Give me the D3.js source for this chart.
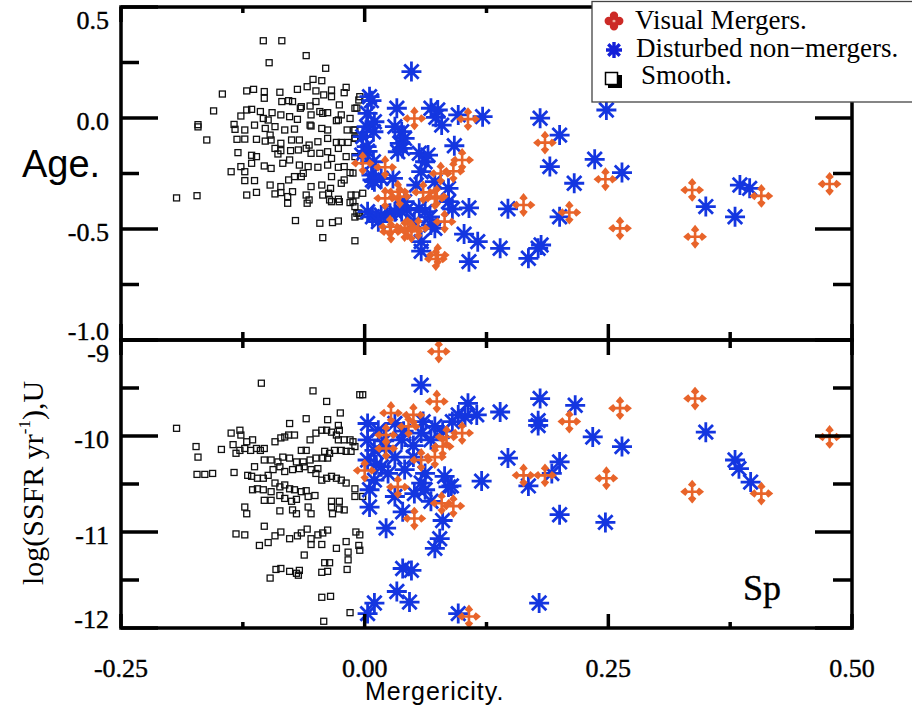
<!DOCTYPE html>
<html>
<head>
<meta charset="utf-8">
<script src="https://cdn.jsdelivr.net/npm/d3@7"></script>
<style>
  html, body { margin: 0; padding: 0; background: #fff; }
  svg { display: block; }
</style>
</head>
<body>
<script>
// ---- axis ticks ----
const xTicks = [-0.25, 0, 0.25, 0.5];
const xTickLabels = ["-0.25", "0.00", "0.25", "0.50"];
const xMinor = [-0.125, 0.125, 0.375];
const ageTicks = [0.5, 0, -0.5, -1];
const ageTickLabels = ["0.5", "0.0", "-0.5", "-1.0"];
const ageMinor = [0.25, -0.25, -0.75];
const ssfrTicks = [-9, -10, -11, -12];
const ssfrTickLabels = ["-9", "-10", "-11", "-12"];
const ssfrMinor = [-9.5, -10.5, -11.5];

const legendLabels = ["Visual Mergers.", "Disturbed non\u2212mergers.", "Smooth."];

// ---- upper panel: mergericity vs age ----
const smoothAge = [
  [-0.104,0.348],[-0.085,0.348],[-0.098,0.249],[-0.060,0.281],[-0.040,0.224],[-0.053,0.174],[-0.044,0.168],
  [-0.146,0.108],[-0.121,0.122],[-0.114,0.129],[-0.103,0.119],[-0.103,0.089],[-0.087,0.116],[-0.069,0.129],
  [-0.059,0.141],[-0.050,0.122],[-0.042,0.104],[-0.034,0.126],[-0.019,0.138],[-0.085,0.074],[-0.078,0.078],
  [-0.074,0.074],[-0.065,0.051],[-0.056,0.054],[-0.050,0.074],[-0.046,0.029],[-0.038,0.024],[-0.034,0.096],
  [-0.026,0.059],[-0.021,0.114],[-0.010,0.044],[-0.006,0.081],[-0.155,0.032],[-0.121,0.036],[-0.116,0.039],
  [-0.107,0.029],[-0.127,0.009],[-0.104,-0.002],[-0.099,-0.009],[-0.095,0.024],[-0.086,0.014],[-0.077,0.006],
  [-0.069,-0.006],[-0.066,0.044],[-0.055,0.014],[-0.043,0.021],[-0.029,-0.012],[-0.024,0.014],[-0.015,-0.002],
  [-0.171,-0.030],[-0.171,-0.040],[-0.134,-0.029],[-0.133,-0.051],[-0.123,-0.054],[-0.113,-0.032],[-0.102,-0.047],
  [-0.097,-0.077],[-0.092,-0.039],[-0.082,-0.054],[-0.072,-0.050],[-0.056,-0.032],[-0.055,-0.036],[-0.044,-0.047],
  [-0.038,-0.054],[-0.027,-0.009],[-0.018,-0.054],[-0.011,-0.054],[-0.162,-0.099],[-0.131,-0.096],[-0.123,-0.095],
  [-0.111,-0.096],[-0.102,-0.104],[-0.096,-0.099],[-0.086,-0.114],[-0.075,-0.099],[-0.067,-0.099],[-0.057,-0.122],
  [-0.048,-0.107],[-0.038,-0.092],[-0.029,-0.110],[-0.024,-0.110],[-0.017,-0.110],[-0.010,-0.092],[-0.130,-0.156],
  [-0.116,-0.168],[-0.111,-0.174],[-0.092,-0.137],[-0.089,-0.162],[-0.086,-0.147],[-0.076,-0.147],[-0.068,-0.144],
  [-0.060,-0.137],[-0.055,-0.159],[-0.046,-0.159],[-0.038,-0.152],[-0.027,-0.137],[-0.019,-0.174],[-0.010,-0.174],
  [-0.137,-0.242],[-0.127,-0.219],[-0.123,-0.242],[-0.116,-0.204],[-0.103,-0.216],[-0.096,-0.227],[-0.084,-0.204],
  [-0.077,-0.189],[-0.067,-0.212],[-0.058,-0.219],[-0.048,-0.222],[-0.038,-0.212],[-0.034,-0.182],[-0.027,-0.222],
  [-0.021,-0.219],[-0.015,-0.246],[-0.123,-0.282],[-0.113,-0.282],[-0.097,-0.302],[-0.086,-0.309],[-0.078,-0.279],
  [-0.072,-0.264],[-0.065,-0.264],[-0.063,-0.249],[-0.055,-0.309],[-0.044,-0.302],[-0.035,-0.317],[-0.021,-0.279],
  [-0.034,-0.264],[-0.024,-0.294],[-0.193,-0.360],[-0.172,-0.350],[-0.121,-0.347],[-0.111,-0.335],[-0.092,-0.342],
  [-0.086,-0.336],[-0.079,-0.354],[-0.074,-0.332],[-0.060,-0.347],[-0.057,-0.369],[-0.043,-0.347],[-0.037,-0.339],
  [-0.036,-0.369],[-0.027,-0.366],[-0.014,-0.347],[-0.009,-0.347],[-0.002,-0.339],[-0.079,-0.384],[-0.059,-0.384],
  [-0.034,-0.377],[-0.026,-0.377],[-0.015,-0.381],[-0.010,-0.399],[-0.071,-0.462],[-0.046,-0.474],[-0.033,-0.471],
  [-0.027,-0.464],[-0.008,-0.429],[-0.005,-0.441],[-0.043,-0.539],[-0.010,-0.553],[-0.005,0.096],[-0.008,0.045],
  [-0.010,-0.054],[-0.010,-0.090],[-0.012,-0.248],[-0.012,-0.378],[-0.006,-0.428],[-0.010,-0.446]
];

const disturbedAge = [
  [0.007,0.078],[0.048,0.209],[0.033,0.044],[0.073,0.003],[0.096,0.014],[0.121,0.006],[0.079,-0.032],
  [0.002,-0.039],[0.002,-0.129],[0.036,-0.114],[0.056,-0.159],[0.092,-0.125],[0.008,-0.279],[0.053,-0.302],
  [0.008,-0.445],[0.026,-0.429],[0.043,-0.414],[0.067,-0.445],[0.090,-0.410],[0.058,-0.600],[0.180,-0.001],
  [0.248,0.036],[0.200,-0.077],[0.190,-0.219],[0.236,-0.186],[0.264,-0.246],[0.215,-0.294],[0.385,-0.302],
  [0.395,-0.317],[0.350,-0.399],[0.380,-0.445],[0.107,-0.405],[0.147,-0.409],[0.200,-0.445],[0.102,-0.523],
  [0.116,-0.557],[0.139,-0.587],[0.168,-0.632],[0.178,-0.587],[0.181,-0.572],[0.107,-0.647],
  [0.009,-0.062],[0.003,-0.150],[0.039,-0.137],[0.062,-0.197],[0.007,-0.257],[0.038,-0.422],[0.056,-0.407],
  [0.068,-0.482],[0.005,0.096],[0.003,0.021],[0.010,-0.017],[-0.002,-0.084],[0.009,-0.197],[-0.003,-0.167],
  [0.010,-0.287],[0.017,-0.272],[0.029,-0.272],[0.034,-0.152],[0.041,-0.092],[0.038,-0.062],[0.031,-0.039],
  [0.068,0.044],[0.075,0.036],[0.065,-0.167],[0.058,-0.242],[0.072,-0.287],[0.041,-0.377],[0.031,-0.422],
  [0.017,-0.437],[0.003,-0.422],[0.014,-0.467],[0.062,-0.422],[0.051,-0.467],[0.072,-0.497],[0.058,-0.557],
  [0.086,-0.377],[0.086,-0.317]
];

const mergersAge = [
  [0.051,-0.002],[0.106,-0.005],[0.185,-0.111],[0.100,-0.189],[0.078,-0.250],[0.091,-0.240],[0.247,-0.276],
  [0.336,-0.324],[0.407,-0.351],[0.477,-0.297],[0.163,-0.392],[0.210,-0.426],[0.262,-0.497],[0.339,-0.535],
  [-0.002,-0.204],[0.021,-0.222],[0.034,-0.332],[0.021,-0.362],[0.060,-0.335],[0.072,-0.362],[0.082,-0.467],
  [0.027,-0.512],[0.044,-0.497],[0.055,-0.497],[0.075,-0.617],[0.073,-0.635],[0.036,-0.354],[0.074,-0.354],
  [0.026,-0.490],[0.041,-0.505],[0.048,-0.510]
];

// ---- lower panel: mergericity vs log specific star formation rate ----
const smoothSsfr = [
  [-0.106,-9.45],[-0.053,-9.53],[-0.005,-9.57],[-0.002,-9.57],[-0.039,-9.64],[-0.025,-9.76],[-0.193,-9.92],
  [-0.077,-9.87],[-0.060,-9.82],[-0.038,-9.83],[-0.027,-9.89],[-0.137,-9.97],[-0.128,-9.94],[-0.127,-9.99],
  [-0.121,-10.06],[-0.115,-10.04],[-0.173,-10.11],[-0.171,-10.22],[-0.147,-10.14],[-0.135,-10.09],[-0.132,-10.18],
  [-0.128,-10.15],[-0.123,-10.13],[-0.117,-10.15],[-0.111,-10.13],[-0.107,-10.15],[-0.103,-10.13],[-0.092,-10.06],
  [-0.086,-10.02],[-0.082,-10.01],[-0.078,-9.99],[-0.072,-9.99],[-0.065,-10.15],[-0.060,-10.15],[-0.056,-10.04],
  [-0.050,-9.97],[-0.044,-9.94],[-0.039,-9.94],[-0.034,-9.96],[-0.029,-9.99],[-0.026,-9.94],[-0.027,-10.04],
  [-0.021,-10.04],[-0.015,-10.04],[-0.012,-10.06],[-0.041,-10.16],[-0.036,-10.18],[-0.031,-10.15],[-0.024,-10.15],
  [-0.019,-10.16],[-0.014,-10.16],[-0.010,-10.11],[-0.113,-10.32],[-0.120,-10.41],[-0.116,-10.42],[-0.110,-10.44],
  [-0.104,-10.44],[-0.099,-10.41],[-0.094,-10.35],[-0.087,-10.32],[-0.082,-10.37],[-0.074,-10.35],[-0.067,-10.34],
  [-0.062,-10.32],[-0.055,-10.35],[-0.048,-10.34],[-0.103,-10.25],[-0.096,-10.25],[-0.089,-10.27],[-0.084,-10.22],
  [-0.077,-10.23],[-0.070,-10.27],[-0.063,-10.27],[-0.056,-10.25],[-0.050,-10.23],[-0.043,-10.23],[-0.038,-10.23],
  [-0.172,-10.40],[-0.164,-10.40],[-0.156,-10.39],[-0.134,-10.38],[-0.050,-10.39],[-0.044,-10.46],[-0.039,-10.44],
  [-0.034,-10.42],[-0.029,-10.44],[-0.024,-10.46],[-0.019,-10.49],[-0.092,-10.49],[-0.087,-10.53],[-0.082,-10.51],
  [-0.077,-10.55],[-0.072,-10.56],[-0.065,-10.58],[-0.060,-10.57],[-0.115,-10.56],[-0.110,-10.55],[-0.104,-10.56],
  [-0.096,-10.58],[-0.087,-10.62],[-0.082,-10.65],[-0.075,-10.68],[-0.070,-10.66],[-0.058,-10.63],[-0.051,-10.62],
  [-0.034,-10.68],[-0.026,-10.68],[-0.010,-10.55],[-0.010,-10.63],[-0.002,-10.63],[-0.123,-10.74],[-0.121,-10.81],
  [-0.103,-10.67],[-0.096,-10.67],[-0.087,-10.78],[-0.074,-10.77],[-0.070,-10.81],[-0.058,-10.74],[-0.055,-10.81],
  [-0.034,-10.74],[-0.033,-10.81],[-0.026,-10.76],[-0.021,-10.77],[-0.103,-10.94],[-0.086,-11.00],[-0.077,-11.07],
  [-0.069,-11.04],[-0.065,-11.01],[-0.059,-10.97],[-0.055,-11.07],[-0.048,-11.03],[-0.043,-11.01],[-0.038,-10.98],
  [-0.019,-11.10],[-0.009,-11.00],[-0.005,-11.03],[-0.132,-11.02],[-0.123,-11.03],[-0.108,-11.14],[-0.099,-11.11],
  [-0.092,-11.04],[-0.055,-11.13],[-0.044,-11.13],[-0.029,-11.17],[-0.017,-11.21],[-0.017,-11.29],[-0.006,-11.14],
  [-0.005,-11.19],[-0.062,-11.24],[-0.041,-11.32],[-0.036,-11.32],[-0.044,-11.42],[-0.038,-11.41],[-0.018,-11.39],
  [-0.097,-11.48],[-0.091,-11.39],[-0.086,-11.38],[-0.077,-11.41],[-0.070,-11.43],[-0.068,-11.45],[-0.067,-11.40],
  [-0.044,-11.68],[-0.035,-11.67],[-0.015,-11.84],[-0.042,-11.93]
];

const disturbedSsfr = [
  [0.058,-9.47],[0.106,-9.66],[0.139,-9.75],[0.115,-9.78],[0.096,-9.78],[0.180,-9.61],[0.216,-9.68],
  [0.178,-9.84],[0.178,-9.89],[0.234,-10.01],[0.264,-10.11],[0.350,-9.96],[0.147,-10.23],[0.200,-10.27],
  [0.192,-10.39],[0.120,-10.47],[0.168,-10.52],[0.089,-10.52],[0.380,-10.25],[0.384,-10.34],[0.396,-10.48],
  [0.200,-10.82],[0.247,-10.90],[0.179,-11.74],[0.096,-11.85],
  [0.003,-9.87],[0.014,-9.94],[0.003,-10.04],[0.010,-10.15],[0.003,-10.25],[0.017,-10.32],[0.010,-10.46],
  [0.005,-10.56],[0.005,-10.74],[0.031,-9.87],[0.038,-10.04],[0.031,-10.22],[0.041,-10.35],[0.024,-10.39],
  [0.058,-9.97],[0.072,-9.90],[0.068,-10.04],[0.062,-10.39],[0.058,-10.49],[0.062,-10.56],[0.086,-10.53],
  [0.068,-10.68],[0.039,-10.79],[0.080,-10.88],[0.022,-10.96],[0.077,-11.07],[0.072,-11.17],[0.039,-11.38],
  [0.048,-11.40],[0.033,-11.62],[0.046,-11.73],[0.010,-11.74],[0.003,-11.85],[0.103,-9.80],[0.050,-10.22],
  [0.021,-10.11],[0.051,-10.60],[0.082,-10.42],[0.031,-10.63],[0.090,-9.85],[0.060,-9.85],[0.040,-9.95],
  [0.020,-10.05],[0.050,-10.10],[0.080,-9.95],[0.012,-10.30]
];

const mergersSsfr = [
  [0.076,-9.12],[0.074,-9.64],[0.027,-9.76],[0.050,-9.78],[0.045,-9.90],[0.022,-9.99],[0.022,-10.13],
  [0.100,-9.97],[0.080,-10.11],[0.072,-10.22],[0.058,-10.25],[0.000,-10.36],[0.034,-10.53],[0.079,-10.70],
  [0.091,-10.73],[0.051,-10.86],[0.107,-11.88],[0.339,-9.61],[0.262,-9.71],[0.210,-9.85],[0.477,-10.01],
  [0.163,-10.41],[0.185,-10.41],[0.248,-10.44],[0.336,-10.58],[0.407,-10.60],[0.084,-10.01]
];

// ---- layout ----
const W = 912, H = 712;
const serif = "'Liberation Serif','Times New Roman',Times,serif";
const sans = "'Liberation Sans',Arial,Helvetica,sans-serif";
const blue = "#1436e0", orange = "#e8642a";

const svg = d3.select("body").append("svg").attr("width", W).attr("height", H);

const x = d3.scaleLinear().domain([-0.25, 0.5]).range([121, 852]);
const yAge = d3.scaleLinear().domain([-1, 0.5]).range([340, 7]);
const ySsfr = d3.scaleLinear().domain([-12, -9]).range([628, 340]);

// custom symbol types
const asterisk = {
  draw(ctx, size) {
    const r = Math.sqrt(size);
    const d = r * 0.72;
    ctx.moveTo(-r, 0); ctx.lineTo(r, 0);
    ctx.moveTo(0, -r); ctx.lineTo(0, r);
    ctx.moveTo(-d, -d); ctx.lineTo(d, d);
    ctx.moveTo(-d, d); ctx.lineTo(d, -d);
  }
};
const tipCross = {
  draw(ctx, size) {
    const r = Math.sqrt(size);
    const a = r * 0.7, s = r * 0.24;
    ctx.moveTo(-a, 0); ctx.lineTo(a, 0);
    ctx.moveTo(0, -a); ctx.lineTo(0, a);
    for (const [ux, uy] of [[1,0],[-1,0],[0,1],[0,-1]]) {
      const cx = ux * a, cy = uy * a;
      ctx.moveTo(cx + ux * s * 1.2, cy + uy * s * 1.2);
      ctx.lineTo(cx + uy * s, cy + ux * s);
      ctx.lineTo(cx - ux * s * 0.8, cy - uy * s * 0.8);
      ctx.lineTo(cx - uy * s, cy - ux * s);
      ctx.closePath();
    }
  }
};
const lobes = {
  draw(ctx, size) {
    const r = Math.sqrt(size);
    for (const [ux, uy] of [[1,0],[-1,0],[0,1],[0,-1]]) {
      const cx = ux * r * 0.5, cy = uy * r * 0.5;
      ctx.moveTo(cx + r * 0.4, cy);
      ctx.arc(cx, cy, r * 0.4, 0, 2 * Math.PI);
    }
  }
};

// ---- panels ----
function panel(yScale, ticks, labels, minor, smooth, disturbed, mergers, side) {
  const g = svg.append("g");
  const [y0, y1] = yScale.range();   // bottom, top
  const [x0, x1] = x.range();

  // smooth galaxies
  g.append("g").selectAll("rect").data(smooth).join("rect")
    .attr("x", d => x(d[0]) - 3).attr("y", d => yScale(d[1]) - 3)
    .attr("width", 6).attr("height", 6)
    .attr("fill", "none").attr("stroke", "#111").attr("stroke-width", 1.3);

  // disturbed non-mergers
  g.append("g").selectAll("path").data(disturbed).join("path")
    .attr("transform", d => `translate(${x(d[0])},${yScale(d[1])})`)
    .attr("d", d3.symbol().type(asterisk).size(100))
    .attr("fill", "none").attr("stroke", blue).attr("stroke-width", 2.8)
    .attr("stroke-linecap", "butt");

  // visual mergers
  g.append("g").selectAll("path").data(mergers).join("path")
    .attr("transform", d => `translate(${x(d[0])},${yScale(d[1])})`)
    .attr("d", d3.symbol().type(tipCross).size(100))
    .attr("fill", orange).attr("stroke", orange).attr("stroke-width", 2.6);

  // frame
  g.append("rect").attr("x", x0).attr("y", y1).attr("width", x1 - x0).attr("height", y0 - y1)
    .attr("fill", "none").attr("stroke", "#000").attr("stroke-width", 3.5);

  const tk = g.append("g").attr("stroke", "#000").attr("stroke-width", 3.5);
  // y ticks, left and right, pointing inward
  ticks.forEach(v => {
    tk.append("line").attr("x1", x0).attr("x2", x0 + 37).attr("y1", yScale(v)).attr("y2", yScale(v));
    tk.append("line").attr("x1", x1).attr("x2", x1 - 37).attr("y1", yScale(v)).attr("y2", yScale(v));
  });
  minor.forEach(v => {
    tk.append("line").attr("x1", x0).attr("x2", x0 + 18).attr("y1", yScale(v)).attr("y2", yScale(v));
    tk.append("line").attr("x1", x1).attr("x2", x1 - 19).attr("y1", yScale(v)).attr("y2", yScale(v));
  });
  // x ticks along top and bottom edges
  const topMaj = 15, topMin = side === "upper" ? 6 : 8;
  const botMaj = side === "upper" ? 16 : 14, botMin = side === "upper" ? 8 : 6;
  xTicks.forEach(v => {
    tk.append("line").attr("x1", x(v)).attr("x2", x(v)).attr("y1", y1).attr("y2", y1 + topMaj);
    tk.append("line").attr("x1", x(v)).attr("x2", x(v)).attr("y1", y0).attr("y2", y0 - botMaj);
  });
  xMinor.forEach(v => {
    tk.append("line").attr("x1", x(v)).attr("x2", x(v)).attr("y1", y1).attr("y2", y1 + topMin);
    tk.append("line").attr("x1", x(v)).attr("x2", x(v)).attr("y1", y0).attr("y2", y0 - botMin);
  });

  // y tick labels, kept inside the panel's height
  ticks.forEach((v, i) => {
    const c = Math.max(y1 + 13, Math.min(y0 - 9, yScale(v) + 3));
    svg.append("text").attr("x", 109).attr("y", c + 9)
      .attr("text-anchor", "end").attr("font-family", serif).attr("font-size", 26)
      .attr("stroke", "#000").attr("stroke-width", 0.4)
      .text(labels[i]);
  });
}

panel(yAge, ageTicks, ageTickLabels, ageMinor, smoothAge, disturbedAge, mergersAge, "upper");
panel(ySsfr, ssfrTicks, ssfrTickLabels, ssfrMinor, smoothSsfr, disturbedSsfr, mergersSsfr, "lower");

// x tick labels
xTicks.forEach((v, i) => {
  svg.append("text").attr("x", x(v)).attr("y", 677).attr("text-anchor", "middle")
    .attr("font-family", serif).attr("font-size", 26)
    .attr("stroke", "#000").attr("stroke-width", 0.4).text(xTickLabels[i]);
});

// axis titles
svg.append("text").attr("x", 365).attr("y", 700).attr("font-family", sans)
  .attr("font-size", 25).attr("letter-spacing", 1).text("Mergericity.");
svg.append("text").attr("x", 22).attr("y", 177).attr("font-family", sans)
  .attr("font-size", 38).text("Age.");
const yl = svg.append("text").attr("transform", "translate(43,483) rotate(-90)")
  .attr("text-anchor", "middle").attr("font-family", serif).attr("font-size", 30);
yl.append("tspan").text("log(SSFR yr");
yl.append("tspan").attr("font-size", 17).attr("dy", -13).text("-1");
yl.append("tspan").attr("dy", 13).text("),U");

svg.append("text").attr("x", 743).attr("y", 600).attr("font-family", serif)
  .attr("font-size", 36).attr("stroke", "#000").attr("stroke-width", 0.4).text("Sp");

// legend
const lg = svg.append("g");
lg.append("rect").attr("x", 592).attr("y", 1.5).attr("width", 330).attr("height", 100.5)
  .attr("fill", "#fff").attr("stroke", "#444").attr("stroke-width", 1.3);
lg.append("path").attr("transform", "translate(614,21)")
  .attr("d", d3.symbol().type(lobes).size(110)).attr("fill", "#cc2a26");
lg.append("circle").attr("cx", 614).attr("cy", 21).attr("r", 1.3).attr("fill", "#f0b0a0");
lg.append("path").attr("transform", "translate(614,50)")
  .attr("d", d3.symbol().type(asterisk).size(64)).attr("fill", "none")
  .attr("stroke", "#1420d8").attr("stroke-width", 3.4);
lg.append("rect").attr("x", 608).attr("y", 75).attr("width", 14).attr("height", 13).attr("fill", "#000");
lg.append("rect").attr("x", 605.5).attr("y", 72.5).attr("width", 12).attr("height", 12)
  .attr("fill", "#fff").attr("stroke", "#000").attr("stroke-width", 1.5);
const lgY = [29, 57, 84], lgX = [635, 636, 641];
legendLabels.forEach((t, i) => {
  lg.append("text").attr("x", lgX[i]).attr("y", lgY[i]).attr("font-family", serif)
    .attr("font-size", 27).text(t);
});
</script>
</body>
</html>
